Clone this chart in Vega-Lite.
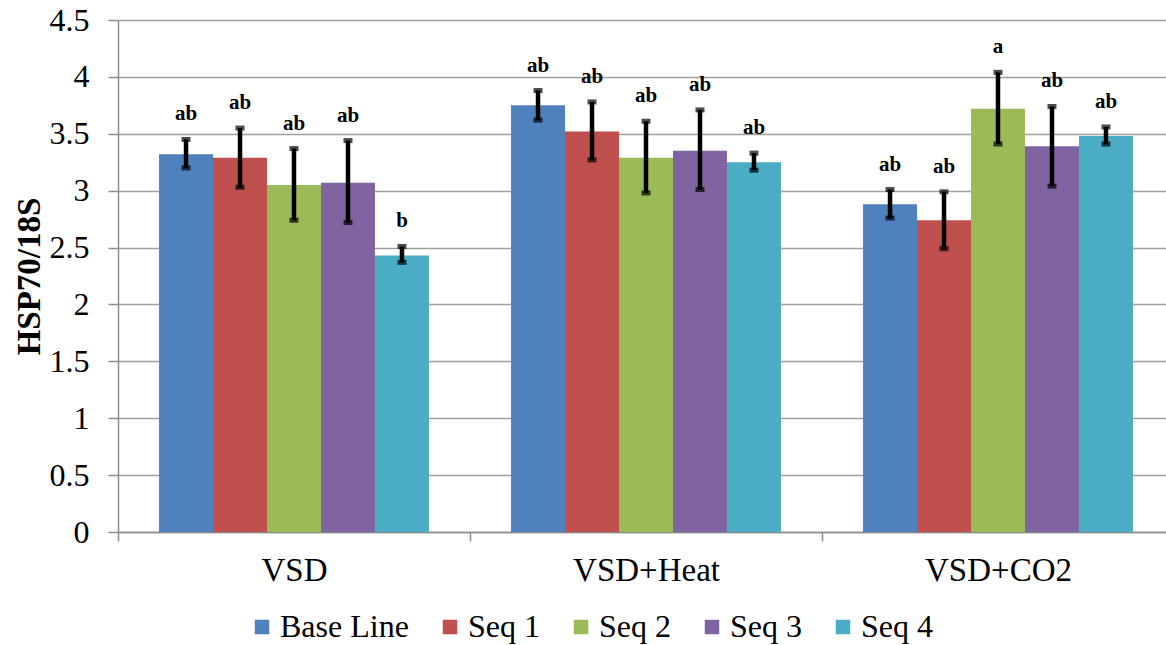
{
  "$schema": "https://vega.github.io/schema/vega-lite/v6.json",
  "width": 1048,
  "height": 512,
  "autosize": {"type": "none"},
  "padding": {"left": 118, "top": 20, "right": 0, "bottom": 113},
  "background": "white",
  "config": {
    "view": {"stroke": null},
    "font": "Liberation Serif",
    "axis": {"labelFont": "Liberation Serif", "titleFont": "Liberation Serif", "labelColor": "black", "titleColor": "black"},
    "legend": {"labelFont": "Liberation Serif"}
  },
  "data": {
    "values": [
      {"group": "VSD", "series": "Base Line", "value": 3.32, "lo": 3.20, "hi": 3.45, "sig": "ab"},
      {"group": "VSD", "series": "Seq 1", "value": 3.29, "lo": 3.03, "hi": 3.55, "sig": "ab"},
      {"group": "VSD", "series": "Seq 2", "value": 3.05, "lo": 2.74, "hi": 3.37, "sig": "ab"},
      {"group": "VSD", "series": "Seq 3", "value": 3.07, "lo": 2.72, "hi": 3.44, "sig": "ab"},
      {"group": "VSD", "series": "Seq 4", "value": 2.43, "lo": 2.37, "hi": 2.51, "sig": "b"},
      {"group": "VSD+Heat", "series": "Base Line", "value": 3.75, "lo": 3.62, "hi": 3.88, "sig": "ab"},
      {"group": "VSD+Heat", "series": "Seq 1", "value": 3.52, "lo": 3.27, "hi": 3.78, "sig": "ab"},
      {"group": "VSD+Heat", "series": "Seq 2", "value": 3.29, "lo": 2.98, "hi": 3.61, "sig": "ab"},
      {"group": "VSD+Heat", "series": "Seq 3", "value": 3.35, "lo": 3.01, "hi": 3.71, "sig": "ab"},
      {"group": "VSD+Heat", "series": "Seq 4", "value": 3.25, "lo": 3.18, "hi": 3.33, "sig": "ab"},
      {"group": "VSD+CO2", "series": "Base Line", "value": 2.88, "lo": 2.76, "hi": 3.01, "sig": "ab"},
      {"group": "VSD+CO2", "series": "Seq 1", "value": 2.74, "lo": 2.49, "hi": 2.99, "sig": "ab"},
      {"group": "VSD+CO2", "series": "Seq 2", "value": 3.72, "lo": 3.41, "hi": 4.04, "sig": "a"},
      {"group": "VSD+CO2", "series": "Seq 3", "value": 3.39, "lo": 3.04, "hi": 3.74, "sig": "ab"},
      {"group": "VSD+CO2", "series": "Seq 4", "value": 3.48, "lo": 3.41, "hi": 3.56, "sig": "ab"}
    ]
  },
  "encoding": {
    "x": {
      "field": "group", "type": "nominal", "sort": ["VSD", "VSD+Heat", "VSD+CO2"],
      "scale": {"range": [0, 1056], "paddingInner": 0, "paddingOuter": 0},
      "axis": {
        "title": null, "labelAngle": 0, "labelFontSize": 33, "labelPadding": 13,
        "tickBand": "extent", "tickSize": 9, "tickColor": "#8c8c8c", "domainColor": "#8c8c8c",
        "domainWidth": 1.5, "tickWidth": 1.5, "grid": false
      }
    },
    "xOffset": {
      "field": "series", "type": "nominal",
      "sort": ["Base Line", "Seq 1", "Seq 2", "Seq 3", "Seq 4"],
      "scale": {"paddingInner": 0, "paddingOuter": 0.76}
    }
  },
  "layer": [
    {
      "mark": {"type": "bar"},
      "encoding": {
        "y": {
          "field": "value", "type": "quantitative",
          "scale": {"domain": [0, 4.5], "nice": false},
          "axis": {
            "title": "HSP70/18S", "titleFontSize": 33, "titleFontWeight": "bold", "titlePadding": 3,
            "values": [0, 0.5, 1, 1.5, 2, 2.5, 3, 3.5, 4, 4.5], "format": "~g",
            "labelFontSize": 32, "labelPadding": 19, "tickSize": 10, "tickColor": "#8c8c8c",
            "domainColor": "#8c8c8c", "domainWidth": 1.5, "tickWidth": 1.5,
            "grid": true, "gridColor": "#a0a0a0", "gridWidth": 1.5
          }
        },
        "color": {
          "field": "series", "type": "nominal",
          "sort": ["Base Line", "Seq 1", "Seq 2", "Seq 3", "Seq 4"],
          "scale": {"domain": ["Base Line", "Seq 1", "Seq 2", "Seq 3", "Seq 4"], "range": ["#4F81BD", "#C0504D", "#9BBB59", "#8064A2", "#4BACC6"]},
          "legend": {
            "title": null, "orient": "none", "direction": "horizontal", "legendX": 128, "legendY": 591,
            "symbolType": "square", "symbolSize": 210, "symbolStrokeWidth": 0, "labelFontSize": 32,
            "labelOffset": 2, "columnPadding": 25, "padding": 0, "labelColor": "black"
          }
        }
      }
    },
    {
      "mark": {"type": "rule", "color": "black", "strokeWidth": 4.5},
      "encoding": {
        "y": {"field": "lo", "type": "quantitative"},
        "y2": {"field": "hi"}
      }
    },
    {
      "mark": {"type": "tick", "color": "black", "thickness": 5, "size": 9},
      "encoding": {"y": {"field": "hi", "type": "quantitative"}}
    },
    {
      "mark": {"type": "tick", "color": "black", "thickness": 5, "size": 9},
      "encoding": {"y": {"field": "lo", "type": "quantitative"}}
    },
    {
      "mark": {"type": "text", "fontSize": 21, "fontWeight": "bold", "baseline": "alphabetic", "dy": -19, "color": "black", "font": "Liberation Serif"},
      "encoding": {
        "y": {"field": "hi", "type": "quantitative"},
        "text": {"field": "sig"}
      }
    }
  ]
}
